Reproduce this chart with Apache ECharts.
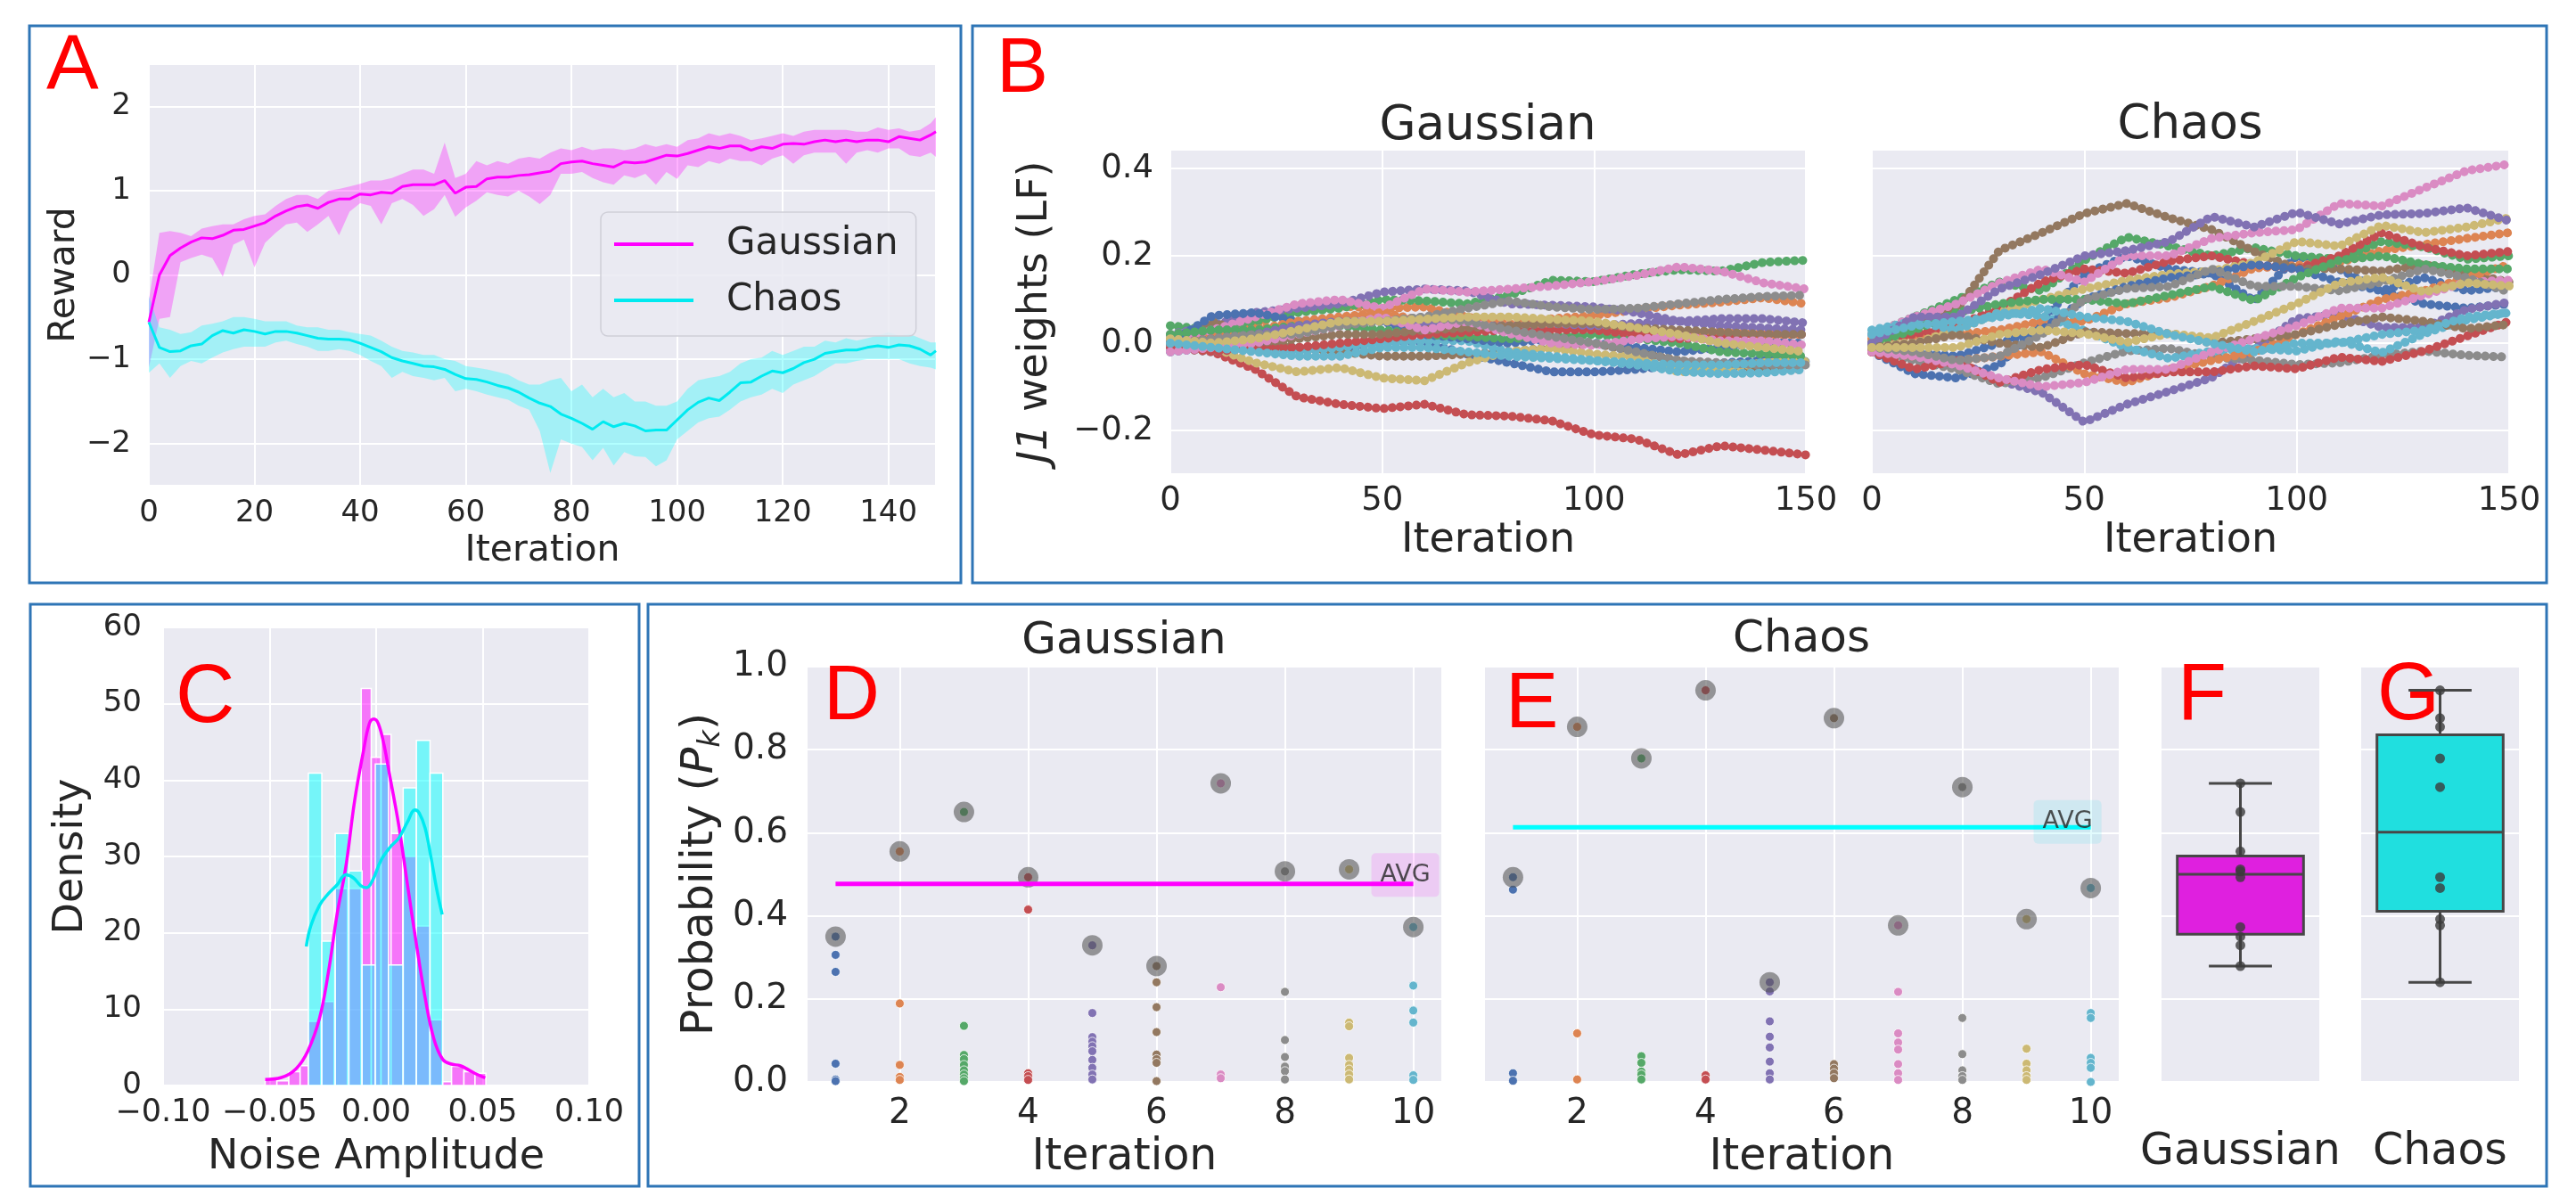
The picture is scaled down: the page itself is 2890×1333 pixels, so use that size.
<!DOCTYPE html>
<html>
<head>
<meta charset="utf-8">
<script src="https://cdn.jsdelivr.net/npm/echarts@6/dist/echarts.min.js"></script>
<style>
html, body { margin: 0; padding: 0; background: #fff; }
#fig { width: 2890px; height: 1333px; }
</style>
</head>
<body>
<div id="fig"></div>
<script>
const FONT = 'DejaVu Sans';
const INK = '#262626';
const deep = ['#4C72B0', '#DD8452', '#55A868', '#C44E52', '#8172B3', '#937860', '#DA8BC3', '#8C8C8C', '#CCB974', '#64B5CD'];

// ---- A: reward per iteration (mean and band) ----
const aIter = [0,2,4,6,8,10,12,14,16,18,20,22,24,26,28,30,32,34,36,38,40,42,44,46,48,50,52,54,56,58,
  60,62,64,66,68,70,72,74,76,78,80,82,84,86,88,90,92,94,96,98,100,102,104,106,108,110,112,114,116,118,
  120,122,124,126,128,130,132,134,136,138,140,142,144,146,148,149];
const gaussMean = [-0.56,0.00,0.23,0.32,0.39,0.44,0.43,0.47,0.53,0.54,
  0.58,0.62,0.70,0.76,0.81,0.83,0.79,0.86,0.90,0.90,
  0.96,0.95,0.98,0.97,1.05,1.07,1.07,1.07,1.12,0.97,
  1.04,1.05,1.14,1.16,1.16,1.18,1.19,1.21,1.23,1.32,
  1.34,1.35,1.32,1.30,1.28,1.34,1.33,1.34,1.38,1.42,
  1.41,1.44,1.48,1.52,1.50,1.53,1.53,1.48,1.52,1.50,
  1.55,1.56,1.55,1.58,1.60,1.58,1.60,1.58,1.60,1.60,
  1.58,1.64,1.62,1.60,1.66,1.70];
const gaussUpper = [-0.30,0.50,0.52,0.50,0.46,0.55,0.58,0.60,0.60,0.66,
  0.70,0.72,0.82,0.90,0.95,0.95,0.90,1.00,1.02,1.05,
  1.08,1.12,1.12,1.15,1.20,1.25,1.25,1.20,1.57,1.15,
  1.20,1.35,1.30,1.35,1.32,1.38,1.40,1.38,1.45,1.50,
  1.48,1.52,1.48,1.50,1.50,1.48,1.50,1.55,1.52,1.55,
  1.52,1.60,1.62,1.68,1.65,1.68,1.65,1.60,1.62,1.65,
  1.68,1.65,1.70,1.72,1.72,1.72,1.72,1.70,1.70,1.75,
  1.72,1.74,1.70,1.72,1.80,1.87];
const gaussLower = [-1.10,-0.52,-0.50,0.15,0.20,0.24,0.20,-0.02,0.36,0.42,
  0.09,0.38,0.50,0.60,0.62,0.51,0.60,0.70,0.47,0.75,
  0.85,0.82,0.60,0.85,0.90,0.83,0.70,0.78,0.95,0.69,
  0.80,0.88,0.98,0.95,0.93,1.00,0.93,0.84,0.95,1.20,
  1.20,1.22,1.15,1.10,1.07,1.18,1.15,1.20,1.07,1.22,
  1.14,1.30,1.28,1.35,1.32,1.38,1.35,1.35,1.30,1.38,
  1.42,1.32,1.42,1.45,1.45,1.45,1.32,1.45,1.48,1.45,
  1.50,1.50,1.42,1.40,1.45,1.40];
const chaosMean = [-0.56,-0.86,-0.91,-0.90,-0.84,-0.82,-0.72,-0.66,-0.69,-0.65,
  -0.67,-0.70,-0.67,-0.67,-0.69,-0.72,-0.75,-0.76,-0.76,-0.77,
  -0.81,-0.86,-0.91,-0.98,-1.02,-1.05,-1.08,-1.09,-1.12,-1.18,
  -1.23,-1.24,-1.27,-1.31,-1.34,-1.39,-1.46,-1.52,-1.56,-1.65,
  -1.70,-1.76,-1.83,-1.74,-1.80,-1.76,-1.79,-1.85,-1.84,-1.84,
  -1.72,-1.60,-1.51,-1.46,-1.49,-1.39,-1.28,-1.27,-1.20,-1.14,
  -1.16,-1.11,-1.04,-1.00,-0.93,-0.91,-0.89,-0.89,-0.86,-0.84,
  -0.86,-0.83,-0.84,-0.88,-0.95,-0.90];
const chaosUpper = [-0.25,-0.62,-0.65,-0.70,-0.68,-0.60,-0.58,-0.55,-0.50,-0.50,
  -0.52,-0.55,-0.55,-0.55,-0.60,-0.62,-0.62,-0.65,-0.65,-0.68,
  -0.70,-0.72,-0.78,-0.85,-0.90,-0.92,-0.95,-0.95,-1.00,-1.02,
  -1.08,-1.10,-1.12,-1.15,-1.18,-1.25,-1.30,-1.30,-1.25,-1.22,
  -1.38,-1.30,-1.45,-1.35,-1.45,-1.40,-1.50,-1.50,-1.55,-1.55,
  -1.50,-1.35,-1.25,-1.22,-1.20,-1.15,-1.05,-1.00,-0.98,-0.90,
  -0.95,-0.90,-0.85,-0.85,-0.78,-0.80,-0.75,-0.78,-0.75,-0.72,
  -0.68,-0.72,-0.70,-0.75,-0.80,-0.80];
const chaosLower = [-1.16,-1.05,-1.22,-1.08,-1.02,-1.05,-0.98,-0.92,-0.88,-0.85,
  -0.85,-0.85,-0.80,-0.78,-0.82,-0.85,-0.90,-0.90,-0.88,-0.90,
  -0.95,-1.02,-1.08,-1.22,-1.15,-1.20,-1.22,-1.25,-1.22,-1.38,
  -1.35,-1.38,-1.42,-1.45,-1.48,-1.55,-1.60,-1.85,-2.35,-1.95,
  -2.00,-2.04,-2.20,-2.05,-2.26,-2.10,-2.15,-2.16,-2.27,-2.20,
  -1.95,-1.85,-1.75,-1.70,-1.68,-1.60,-1.50,-1.45,-1.42,-1.35,
  -1.40,-1.30,-1.25,-1.20,-1.12,-1.05,-1.05,-1.02,-1.00,-1.00,
  -1.00,-1.00,-1.05,-1.08,-1.10,-1.12];

// ---- B: J1 weights, sampled every 10 iterations ----
const bIter = [0,10,20,30,40,50,60,70,80,90,100,110,120,130,140,150];
const gW1  = [-0.02,-0.01,0.00,-0.01,-0.018,0.005,0.002,-0.025,-0.045,-0.066,-0.066,-0.06,-0.05,-0.045,-0.04,-0.042];
const gW2  = [0.01,0.02,0.04,0.09,0.085,0.08,0.083,0.06,0.043,0.056,0.063,0.077,0.087,0.094,0.104,0.09];
const gW3  = [0.04,0.03,0.05,0.07,0.08,0.10,0.097,0.09,0.11,0.144,0.141,0.158,0.168,0.165,0.185,0.19];
const gW4  = [0.00,-0.02,-0.06,-0.123,-0.14,-0.15,-0.14,-0.164,-0.167,-0.178,-0.21,-0.22,-0.256,-0.235,-0.245,-0.256];
const gW5  = [0.02,0.04,0.07,0.08,0.09,0.117,0.124,0.12,0.09,0.087,0.083,0.07,0.05,0.056,0.056,0.046];
const gW6  = [0.00,0.05,0.01,-0.01,-0.02,-0.03,-0.03,-0.025,-0.02,-0.01,0.00,-0.02,-0.04,-0.055,-0.058,-0.06];
const gW7  = [0.00,0.03,0.06,0.09,0.10,0.08,0.124,0.117,0.124,0.131,0.141,0.155,0.175,0.165,0.138,0.124];
const gW8  = [0.02,0.03,0.03,0.04,0.05,0.05,0.06,0.08,0.097,0.083,0.077,0.08,0.09,0.10,0.107,0.11];
const gW9  = [0.00,-0.01,-0.045,-0.066,-0.056,-0.08,-0.086,-0.045,-0.018,-0.012,-0.025,-0.032,-0.066,-0.06,-0.045,-0.042];
const gW10 = [-0.01,-0.02,-0.01,-0.02,-0.01,0.00,0.005,0.005,-0.02,-0.03,-0.04,-0.05,-0.065,-0.07,-0.068,-0.06];
const gW11 = [0.00,0.063,0.07,0.05,0.043,0.05,0.02,0.01,0.00,0.01,0.00,-0.01,-0.02,-0.01,0.00,0.00];
const gW12 = [0.00,0.01,0.03,0.05,0.06,0.07,0.05,0.04,0.03,0.035,0.04,0.03,0.02,0.025,0.02,0.02];
const gW13 = [0.02,0.03,0.03,0.04,0.04,0.03,0.02,0.015,0.01,0.015,0.02,0.01,0.00,-0.02,-0.025,-0.03];
const gW14 = [-0.01,-0.02,-0.01,-0.01,0.00,0.01,0.02,0.025,0.03,0.03,0.03,0.02,0.01,0.015,0.02,0.02];
const gW15 = [0.00,0.01,0.02,0.04,0.05,0.05,0.045,0.04,0.04,0.045,0.04,0.045,0.05,0.04,0.035,0.03];
const gW16 = [0.00,0.01,0.00,0.01,0.02,0.02,0.03,0.035,0.04,0.045,0.045,0.035,0.03,0.025,0.02,0.02];
const gW17 = [-0.02,-0.01,0.00,0.02,0.04,0.06,0.03,0.05,0.022,0.00,-0.005,0.009,0.016,0.005,0.005,-0.005];
const gW18 = [0.00,0.01,0.02,0.02,0.04,0.05,0.06,0.05,0.03,0.015,0.00,-0.02,-0.04,-0.045,-0.05,-0.05];
const gW19 = [0.01,0.00,0.01,0.03,0.05,0.05,0.055,0.06,0.06,0.055,0.05,0.035,0.02,0.00,-0.01,-0.02];
const gW20 = [0.00,-0.01,-0.02,-0.03,-0.03,-0.01,-0.01,-0.02,-0.03,-0.035,-0.04,-0.045,-0.05,-0.05,-0.045,-0.045];

const cW1  = [-0.02,-0.07,-0.08,-0.05,0.05,0.158,0.20,0.17,0.16,0.097,0.20,0.17,0.12,0.09,0.08,0.09];
const cW2  = [0.01,0.015,0.02,0.03,0.05,0.05,0.09,0.104,0.131,0.172,0.178,0.185,0.212,0.226,0.24,0.253];
const cW3  = [0.02,0.06,0.10,0.14,0.12,0.19,0.243,0.222,0.20,0.219,0.20,0.192,0.233,0.22,0.192,0.20];
const cW4  = [0.00,0.02,0.04,0.08,0.14,0.17,0.16,0.188,0.20,0.18,0.17,0.20,0.253,0.22,0.20,0.21];
const cW5  = [-0.01,-0.02,-0.04,-0.086,-0.113,-0.181,-0.14,-0.11,-0.079,-0.012,0.056,0.066,0.036,0.036,0.077,0.094];
const cW6  = [0.00,0.04,0.077,0.212,0.253,0.297,0.32,0.287,0.26,0.21,0.17,0.17,0.165,0.18,0.16,0.14];
const cW7  = [0.02,0.06,0.09,0.138,0.17,0.14,0.20,0.20,0.24,0.253,0.26,0.32,0.314,0.355,0.395,0.41];
const cW8  = [-0.02,-0.04,-0.06,-0.093,-0.079,-0.045,-0.018,-0.012,-0.032,-0.039,-0.049,-0.045,-0.028,-0.018,-0.028,-0.032];
const cW9  = [0.00,0.00,0.03,0.07,0.10,0.124,0.144,0.158,0.165,0.185,0.233,0.222,0.27,0.253,0.266,0.287];
const cW10 = [0.03,0.05,0.03,0.07,0.063,0.029,-0.01,-0.035,-0.018,-0.012,-0.018,0.005,-0.022,0.022,0.053,0.07];
const cW11 = [-0.02,-0.02,-0.03,0.00,0.03,0.10,0.13,0.15,0.16,0.18,0.17,0.14,0.12,0.15,0.12,0.13];
const cW12 = [-0.02,-0.03,-0.04,-0.03,-0.02,-0.07,-0.09,-0.06,-0.04,-0.02,0.02,0.06,0.10,0.12,0.15,0.18];
const cW13 = [0.00,0.03,0.07,0.09,0.10,0.10,0.09,0.11,0.13,0.097,0.15,0.19,0.20,0.18,0.17,0.17];
const cW14 = [-0.02,-0.06,-0.04,-0.09,-0.06,-0.049,-0.08,-0.066,-0.066,-0.052,-0.059,-0.032,-0.042,-0.018,0.016,0.05];
const cW15 = [0.00,0.06,0.06,0.124,0.158,0.20,0.212,0.233,0.29,0.266,0.30,0.273,0.294,0.297,0.31,0.28];
const cW16 = [-0.01,0.00,0.02,0.00,-0.01,0.026,0.022,0.022,0.00,0.01,0.02,0.043,0.06,0.05,0.033,0.043];
const cW17 = [-0.02,-0.03,-0.05,-0.08,-0.10,-0.09,-0.06,-0.06,-0.02,0.01,0.04,0.08,0.08,0.11,0.14,0.144];
const cW18 = [-0.01,-0.02,-0.04,-0.03,0.02,0.10,0.125,0.13,0.17,0.13,0.13,0.12,0.14,0.17,0.15,0.117];
const cW19 = [-0.01,-0.01,-0.01,0.02,0.03,0.022,0.002,0.022,0.012,0.05,0.09,0.138,0.151,0.117,0.138,0.131];
const cW20 = [0.02,0.04,0.05,0.06,0.08,0.06,0.05,0.02,0.00,-0.02,0.00,0.00,0.02,0.03,0.06,0.07];

// ---- C: noise amplitude histograms and KDE ----
const gaussEdges = [-0.0521,-0.0466,-0.0410,-0.0357,-0.0318,-0.0259,-0.0197,-0.0134,-0.0070,-0.0023,
  0.0023,0.0070,0.0125,0.0189,0.0252,0.0310,0.0354,0.0412,0.0464,0.0515];
const gaussDensity = [0.8,0.6,1.8,2.6,8.4,11.0,25.8,25.8,52.0,43.0,46.0,33.0,30.0,20.9,8.6,0.5,2.5,1.8,1.6];
const chaosEdges = [-0.0318,-0.0255,-0.0192,-0.0128,-0.0066,-0.0004,0.0058,0.0127,0.0189,0.0253,0.0313];
const chaosDensity = [40.9,18.9,33.0,28.1,15.8,42.1,15.8,39.0,45.2,40.9];
const gaussKdeX = [-0.0521,-0.0445,-0.0376,-0.0321,-0.0266,-0.0225,-0.0183,-0.0142,-0.0101,-0.0059,-0.0032,-0.0011,
  0.0010,0.0037,0.0065,0.0106,0.0147,0.0189,0.0230,0.0271,0.0313,0.0354,0.0395,0.0437,0.0478,0.0512];
const gaussKdeY = [0.8,1.05,2.2,4.5,8.8,14.7,22.5,28.7,37.3,43.9,47.4,48.0,47.4,44.6,40.4,34.1,26.3,18.5,11.5,6.1,3.4,2.8,2.6,2.0,1.4,1.0];
const chaosKdeX = [-0.0328,-0.0307,-0.0266,-0.0225,-0.0183,-0.0142,-0.0107,-0.0073,-0.0045,-0.0018,
  0.0023,0.0065,0.0106,0.0147,0.0182,0.0202,0.0230,0.0258,0.0285,0.0310];
const chaosKdeY = [18.2,20.9,23.6,25.1,26.3,27.6,27.2,26.2,25.9,26.8,29.5,31.2,32.4,34.5,36.1,35.7,33.7,29.8,25.6,22.4];

// ---- D/E: probability per iteration (best k, and the remaining ones) ----
const pIter = [1,2,3,4,5,6,7,8,9,10];
const gaussBest = [0.350,0.555,0.650,0.493,0.329,0.279,0.719,0.507,0.512,0.373];
const chaosBest = [0.493,0.855,0.779,0.943,0.240,0.876,0.377,0.710,0.392,0.467];
const gP1 = [0.306,0.265,0.044,0.006,0.002];
const gP2 = [0.189,0.041,0.012,0.005];
const gP3 = [0.135,0.065,0.055,0.041,0.028,0.018,0.009,0.002];
const gP4 = [0.415,0.021,0.014,0.005];
const gP5 = [0.166,0.108,0.097,0.086,0.074,0.053,0.034,0.018,0.006];
const gP6 = [0.240,0.180,0.120,0.066,0.055,0.046,0.002];
const gP7 = [0.228,0.018,0.009];
const gP8 = [0.217,0.101,0.060,0.037,0.026,0.006];
const gP9 = [0.143,0.134,0.058,0.041,0.030,0.018,0.006];
const gP10 = [0.232,0.172,0.143,0.016,0.005];
const cP1 = [0.463,0.021,0.003];
const cP2 = [0.117,0.006];
const cP3 = [0.062,0.046,0.025,0.018,0.006];
const cP4 = [0.016,0.006];
const cP5 = [0.218,0.146,0.109,0.083,0.049,0.021,0.006];
const cP6 = [0.043,0.032,0.021,0.009];
const cP7 = [0.217,0.117,0.095,0.078,0.043,0.021,0.005];
const cP8 = [0.154,0.067,0.028,0.014,0.005];
const cP9 = [0.080,0.044,0.028,0.014,0.005];
const cP10 = [0.166,0.154,0.058,0.046,0.034,0.000];

// ---------- helpers ----------
const minus = s => s.replace('-', '\u2212');
const clean = v => (Math.abs(v) < 1e-9 ? 0 : v);
const onStep = (step, f) => v => (Math.abs(v / step - Math.round(v / step)) < 1e-6 ? f(clean(v)) : '');
const f0 = v => minus(String(Math.round(v)));
const f1 = v => minus(v.toFixed(1));
const f2 = v => minus(v.toFixed(2));

function valueAxis(grid, o) {
  return {
    type: 'value', gridIndex: grid, min: o.min, max: o.max, interval: o.interval, splitNumber: o.splitNumber,
    axisLine: { show: false }, axisTick: { show: false },
    splitLine: { show: true, lineStyle: { color: '#ffffff', width: 2 } },
    axisLabel: { show: o.fs !== undefined, color: INK, fontFamily: FONT, fontSize: o.fs, margin: o.margin, formatter: o.fmt },
    name: o.name, nameLocation: 'middle', nameGap: o.gap, nameRotate: o.rotate,
    nameTextStyle: { color: INK, fontFamily: FONT, fontSize: o.nfs, rich: o.rich }
  };
}
function catAxis(grid, label) {
  return {
    type: 'category', gridIndex: grid, data: [label],
    axisLine: { show: false }, axisTick: { show: false }, axisLabel: { show: false }, splitLine: { show: false },
    name: label, nameLocation: 'middle', nameGap: 55,
    nameTextStyle: { color: INK, fontFamily: FONT, fontSize: 49 }
  };
}
function band(name, lower, upper, fill) {
  return {
    type: 'custom', name, xAxisIndex: 0, yAxisIndex: 0, silent: true, clip: true, z: 1,
    data: [[0, 0]],
    renderItem(params, api) {
      const pts = [];
      for (let i = 0; i < aIter.length; i++) pts.push(api.coord([aIter[i], upper[i]]));
      for (let i = aIter.length - 1; i >= 0; i--) pts.push(api.coord([aIter[i], lower[i]]));
      return { type: 'polygon', shape: { points: pts }, style: { fill } };
    }
  };
}
function meanLine(name, values, color) {
  return {
    type: 'line', name, xAxisIndex: 0, yAxisIndex: 0, symbol: 'none', z: 3,
    data: aIter.map((x, i) => [x, values[i]]),
    lineStyle: { color, width: 3 }, itemStyle: { color }
  };
}
// seaborn draws one dot per iteration; a round-capped dash gives the same bead chain along the path
function weightLine(values, i, grid) {
  return {
    type: 'line', xAxisIndex: grid, yAxisIndex: grid, symbol: 'none', silent: true, z: 2,
    data: bIter.map((x, k) => [x, values[k]]),
    lineStyle: { color: deep[i % 10], width: 10, type: [0.1, 9], cap: 'round', join: 'round' }
  };
}
function histogram(edges, dens, fill) {
  return {
    type: 'custom', xAxisIndex: 3, yAxisIndex: 3, silent: true, z: 2,
    data: dens.map((h, i) => [edges[i], edges[i + 1], h]),
    encode: { x: [0, 1], y: 2 },
    renderItem(params, api) {
      const a = api.coord([api.value(0), api.value(2)]);
      const b = api.coord([api.value(1), 0]);
      return { type: 'rect', shape: { x: a[0], y: a[1], width: b[0] - a[0], height: b[1] - a[1] },
        style: { fill, stroke: '#ffffff', lineWidth: 1.5 } };
    }
  };
}
function kde(xs, ys, color) {
  return {
    type: 'line', xAxisIndex: 3, yAxisIndex: 3, symbol: 'none', smooth: 0.4, silent: true, z: 4,
    data: xs.map((x, i) => [x, ys[i]]), lineStyle: { color, width: 3.5 }
  };
}
function probPanel(grid, best, others, avgColor, avgBg, labelOffset) {
  const out = [];
  others.forEach((arr, i) => {
    out.push({
      type: 'scatter', xAxisIndex: grid, yAxisIndex: grid, silent: true, z: 2, symbolSize: 10,
      data: [[pIter[i], best[i]]].concat(arr.map(v => [pIter[i], v])),
      itemStyle: { color: deep[i], borderColor: '#ffffff', borderWidth: 0.8, opacity: 1 }
    });
  });
  out.push({
    type: 'scatter', xAxisIndex: grid, yAxisIndex: grid, silent: true, z: 3, symbolSize: 23,
    data: best.map((v, i) => [pIter[i], v]),
    itemStyle: { color: 'rgba(78,78,78,0.7)' }
  });
  const avg = best.reduce((s, v) => s + v, 0) / best.length;
  out.push({
    type: 'line', xAxisIndex: grid, yAxisIndex: grid, silent: true, z: 4, symbol: 'none',
    data: [[pIter[0], avg], [pIter[pIter.length - 1], avg]],
    lineStyle: { color: avgColor, width: 5 }
  });
  out.push({
    type: 'scatter', xAxisIndex: grid, yAxisIndex: grid, silent: true, z: 5, symbolSize: 0,
    data: [[pIter[pIter.length - 1], avg]],
    label: { show: true, position: 'inside', offset: labelOffset, formatter: 'AVG', color: INK,
      fontFamily: FONT, fontSize: 27, backgroundColor: avgBg, padding: [11, 10], borderRadius: 5 }
  });
  return out;
}
function quantile(s, p) {
  const h = (s.length - 1) * p, lo = Math.floor(h);
  return lo + 1 < s.length ? s[lo] + (h - lo) * (s[lo + 1] - s[lo]) : s[lo];
}
function boxPanel(grid, values, fill) {
  const s = values.slice().sort((a, b) => a - b);
  const q1 = quantile(s, 0.25), med = quantile(s, 0.5), q3 = quantile(s, 0.75), iqr = q3 - q1;
  const lo = Math.min(...s.filter(v => v >= q1 - 1.5 * iqr));
  const hi = Math.max(...s.filter(v => v <= q3 + 1.5 * iqr));
  const EDGE = '#474747';
  return [{
    type: 'custom', xAxisIndex: grid, yAxisIndex: grid, silent: true, z: 2,
    data: [[0, lo, q1, med, q3, hi]], encode: { x: 0, y: [1, 2, 3, 4, 5] },
    renderItem(params, api) {
      const cx = api.coord([0, api.value(3)])[0];
      const half = api.size([1, 0])[0] * 0.4;
      const y = k => api.coord([0, api.value(k)])[1];
      const ln = (x1, y1, x2, y2) => ({ type: 'line', shape: { x1, y1, x2, y2 }, style: { stroke: EDGE, lineWidth: 3 } });
      return { type: 'group', children: [
        ln(cx, y(1), cx, y(2)), ln(cx, y(4), cx, y(5)),
        ln(cx - half / 2, y(1), cx + half / 2, y(1)), ln(cx - half / 2, y(5), cx + half / 2, y(5)),
        { type: 'rect', shape: { x: cx - half, y: y(4), width: 2 * half, height: y(2) - y(4) },
          style: { fill, stroke: EDGE, lineWidth: 3 } },
        ln(cx - half, y(3), cx + half, y(3))
      ] };
    }
  }, {
    type: 'scatter', xAxisIndex: grid, yAxisIndex: grid, silent: true, z: 3, symbolSize: 11,
    data: values.map(v => [0, v]), itemStyle: { color: '#3b3b3b' }
  }];
}

// ---------- layout ----------
const grids = [
  { left: 167, top: 72, width: 883, height: 473 },    // A
  { left: 1313, top: 168, width: 713, height: 364 },  // B Gaussian
  { left: 2100, top: 168, width: 715, height: 364 },  // B Chaos
  { left: 183, top: 704, width: 478, height: 514 },   // C
  { left: 905, top: 748, width: 713, height: 466 },   // D
  { left: 1665, top: 748, width: 713, height: 466 },  // E
  { left: 2425, top: 748, width: 177, height: 466 },  // F
  { left: 2649, top: 748, width: 177, height: 466 }   // G
].map(g => Object.assign({ show: true, backgroundColor: '#EAEAF2', borderWidth: 0 }, g));

const xAxes = [
  valueAxis(0, { min: 0, max: 149, interval: 20, fs: 34, margin: 14, fmt: onStep(20, f0), name: 'Iteration', gap: 53, nfs: 41 }),
  valueAxis(1, { min: 0, max: 150, interval: 50, fs: 37, margin: 12, fmt: onStep(50, f0), name: 'Iteration', gap: 52, nfs: 46 }),
  valueAxis(2, { min: 0, max: 150, interval: 50, fs: 37, margin: 12, fmt: onStep(50, f0), name: 'Iteration', gap: 52, nfs: 46 }),
  valueAxis(3, { min: -0.1, max: 0.1, interval: 0.05, fs: 35, margin: 13, fmt: onStep(0.05, f2), name: 'Noise Amplitude', gap: 58, nfs: 46 }),
  valueAxis(4, { min: 0.55, max: 10.45, splitNumber: 5, fs: 39, margin: 16, fmt: onStep(2, f0), name: 'Iteration', gap: 61, nfs: 49 }),
  valueAxis(5, { min: 0.55, max: 10.45, splitNumber: 5, fs: 39, margin: 16, fmt: onStep(2, f0), name: 'Iteration', gap: 61, nfs: 49 }),
  catAxis(6, 'Gaussian'),
  catAxis(7, 'Chaos')
];
const yAxes = [
  valueAxis(0, { min: -2.5, max: 2.5, splitNumber: 5, fs: 34, margin: 20, fmt: onStep(1, f0), name: 'Reward', gap: 71, nfs: 41, rotate: 90 }),
  valueAxis(1, { min: -0.3, max: 0.443, splitNumber: 4, fs: 37, margin: 19, fmt: onStep(0.2, f1),
    name: '{i|J1} weights (LF)', gap: 128, nfs: 46, rotate: 90,
    rich: { i: { fontStyle: 'italic', fontFamily: FONT, fontSize: 46, color: INK } } }),
  valueAxis(2, { min: -0.3, max: 0.443, splitNumber: 4 }),
  valueAxis(3, { min: 0, max: 60, interval: 10, fs: 34, margin: 24, fmt: onStep(10, f0), name: 'Density', gap: 80, nfs: 46, rotate: 90 }),
  valueAxis(4, { min: 0, max: 1, interval: 0.2, fs: 39, margin: 21, fmt: onStep(0.2, f1),
    name: '{n|Probability (}{i|P}{s|k}{n|)}', gap: 90, nfs: 49, rotate: 90,
    rich: {
      n: { fontFamily: FONT, fontSize: 49, color: INK, lineHeight: 58 },
      i: { fontFamily: FONT, fontSize: 49, fontStyle: 'italic', color: INK, lineHeight: 58 },
      s: { fontFamily: FONT, fontSize: 34, fontStyle: 'italic', color: INK, verticalAlign: 'bottom' }
    } }),
  valueAxis(5, { min: 0, max: 1, interval: 0.2 }),
  valueAxis(6, { min: 0, max: 1, interval: 0.2 }),
  valueAxis(7, { min: 0, max: 1, interval: 0.2 })
];

const series = [
  band('gaussBand', gaussLower, gaussUpper, 'rgba(255,0,255,0.3)'),
  band('chaosBand', chaosLower, chaosUpper, 'rgba(0,255,255,0.3)'),
  meanLine('Gaussian', gaussMean, '#ff00ff'),
  meanLine('Chaos', chaosMean, '#00eaf0')
];
[gW1, gW2, gW3, gW4, gW5, gW6, gW7, gW8, gW9, gW10, gW11, gW12, gW13, gW14, gW15, gW16, gW17, gW18, gW19, gW20]
  .forEach((w, i) => series.push(weightLine(w, i, 1)));
[cW1, cW2, cW3, cW4, cW5, cW6, cW7, cW8, cW9, cW10, cW11, cW12, cW13, cW14, cW15, cW16, cW17, cW18, cW19, cW20]
  .forEach((w, i) => series.push(weightLine(w, i, 2)));
series.push(histogram(gaussEdges, gaussDensity, 'rgba(255,0,255,0.5)'));
series.push(histogram(chaosEdges, chaosDensity, 'rgba(0,255,255,0.5)'));
series.push(kde(gaussKdeX, gaussKdeY, '#ff00ff'));
series.push(kde(chaosKdeX, chaosKdeY, '#00eaf0'));
series.push(...probPanel(4, gaussBest, [gP1, gP2, gP3, gP4, gP5, gP6, gP7, gP8, gP9, gP10], '#ff00ff', 'rgba(255,0,255,0.16)', [-9, -10]));
series.push(...probPanel(5, chaosBest, [cP1, cP2, cP3, cP4, cP5, cP6, cP7, cP8, cP9, cP10], '#00ffff', 'rgba(0,220,235,0.14)', [-26, -6]));
series.push(...boxPanel(6, gaussBest, '#DF20DF'));
series.push(...boxPanel(7, chaosBest, '#20DFDF'));

// ---------- frames, panel letters, titles ----------
const frame = (x, y, w, h) => ({ type: 'rect', z: 50, shape: { x, y, width: w, height: h },
  style: { fill: 'none', stroke: '#2E75B6', lineWidth: 3 } });
const letter = (t, x, y, fs) => ({ type: 'text', z: 60, x, y,
  style: { text: t, font: fs + 'px "Liberation Sans"', fill: '#ff0000', textAlign: 'left', textVerticalAlign: 'middle', align: 'left', verticalAlign: 'middle' } });
const title = (t, x, y, fs) => ({ type: 'text', z: 60, x, y,
  style: { text: t, font: fs + 'px "DejaVu Sans"', fill: INK, textAlign: 'center', textVerticalAlign: 'middle', align: 'center', verticalAlign: 'middle' } });

const graphics = [
  frame(33, 29, 1045, 625), frame(1091, 29, 1766, 625), frame(34, 678, 683, 653), frame(727, 678, 2130, 653),
  letter('A', 52, 76, 88), letter('B', 1118, 79, 87), letter('C', 197, 785, 92), letter('D', 924, 783, 87),
  letter('E', 1689, 791, 89), letter('F', 2443, 782, 90), letter('G', 2667, 782, 90),
  title('Gaussian', 1669, 142, 53), title('Chaos', 2457, 141, 53),
  title('Gaussian', 1261, 720, 50), title('Chaos', 2021, 718, 50)
];

const chart = echarts.init(document.getElementById('fig'), null, { renderer: 'canvas' });
chart.setOption({
  animation: false,
  backgroundColor: '#ffffff',
  textStyle: { fontFamily: FONT },
  grid: grids,
  xAxis: xAxes,
  yAxis: yAxes,
  legend: {
    data: ['Gaussian', 'Chaos'], left: 674, top: 238, orient: 'vertical', selectedMode: false,
    icon: 'rect', itemWidth: 89, itemHeight: 4, itemGap: 19,
    backgroundColor: 'rgba(234,234,242,0.85)', borderColor: '#cfcfd8', borderWidth: 1.5, borderRadius: 8,
    padding: [14, 20, 18, 15],
    textStyle: { fontSize: 42, fontFamily: FONT, color: INK, lineHeight: 44, padding: [0, 0, 0, 32] }
  },
  graphic: { elements: graphics },
  series
});
</script>
</body>
</html>
